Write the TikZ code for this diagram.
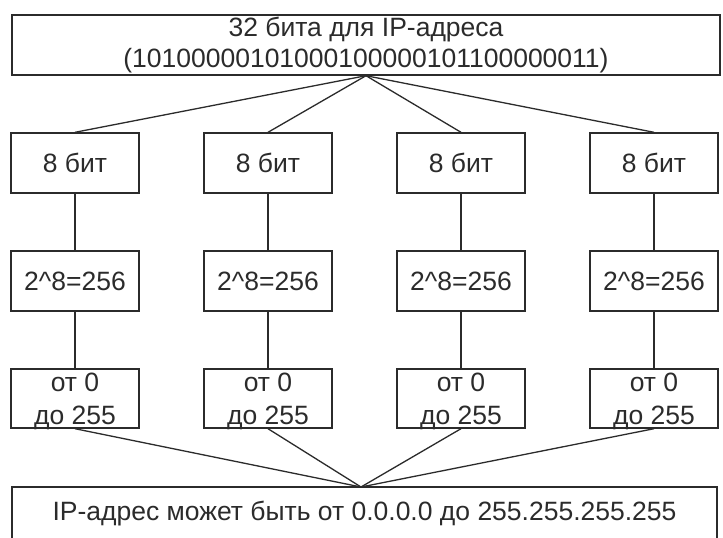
\documentclass[tikz,border=0pt]{standalone}
\usepackage{fontspec}
\setmainfont{Liberation Sans}
\definecolor{ink}{HTML}{2B2B2B}
\begin{document}
\begin{tikzpicture}[x=1pt,y=-1pt,
  every node/.style={text=ink},
  txt/.style={inner sep=0pt, align=center, font=\fontsize{26.5}{31}\selectfont},
  boxnode/.style={draw=ink, line width=1.4pt, fill=white, txt},
  cellbox/.style={boxnode, minimum width=128pt, minimum height=60pt},
  link/.style={draw=ink, line width=1.3pt}]
\useasboundingbox (0,0) rectangle (723,538);
\clip (0,0) rectangle (723,538);
\fill[white] (0,0) rectangle (723,538);

\node[boxnode, minimum width=708pt, minimum height=60pt] (top) at (366,45)
  {32 бита для IP-адреса\\(10100000101000100000101100000011)};

\foreach \i/\x in {1/75,2/268,3/461,4/654}{
  \node[cellbox] (b\i) at (\x,163) {8 бит};
  \node[cellbox] (p\i) at (\x,281) {2\^{}8=256};
  \node[cellbox, minimum height=59pt,
    label={[name=rt\i, txt, font=\fontsize{26.5}{33}\selectfont, yshift=-3pt]center:от 0\\до 255}]
    (r\i) at (\x,398.5) {};
}

\node[boxnode, minimum width=705pt, minimum height=54pt] (bot) at (364.5,514)
  {IP-адрес может быть от 0.0.0.0 до 255.255.255.255};

\coordinate (tj) at (top.south);
\coordinate (bj) at (361,487);
\foreach \i in {1,2,3,4}{
  \draw[link] (tj) -- (b\i.north);
  \draw[link] (b\i.south) -- (p\i.north);
  \draw[link] (p\i.south) -- (r\i.north);
  \draw[link] (r\i.south) -- (bj);
}
\end{tikzpicture}
\end{document}
